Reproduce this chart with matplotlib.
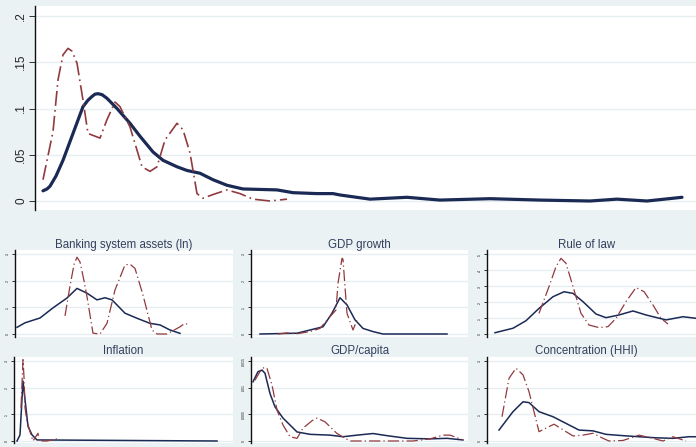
import matplotlib
matplotlib.use("Agg")
import matplotlib.pyplot as plt

plt.rcParams['font.family'] = ['Liberation Sans', 'DejaVu Sans']

W, H = 696, 447
BG = '#eaf2f3'
GRID = '#e6eef0'
NAVY = '#1a2a55'
MAROON = '#913a3f'
TXT = '#34405e'

# ---- main panel: pooled density ----
main_x_blue = [43, 47, 50, 56, 63, 73, 83, 88, 92, 95, 98, 102, 107, 117, 130, 140,
               153, 163, 177, 187, 200, 213, 227, 243, 277, 293, 317, 333, 340, 370,
               407, 440, 490, 540, 590, 617, 647, 682]
main_y_blue = [0.011, 0.013, 0.016, 0.027, 0.044, 0.073, 0.102, 0.109, 0.113, 0.1155,
               0.116, 0.115, 0.111, 0.100, 0.084, 0.070, 0.053, 0.044, 0.037, 0.033,
               0.030, 0.023, 0.017, 0.013, 0.012, 0.009, 0.008, 0.008, 0.0065, 0.002,
               0.004, 0.001, 0.0025, 0.001, 0.000, 0.002, 0.000, 0.004]
main_x_red = [43, 53, 58, 63, 68, 72, 77, 83, 88, 100, 107, 115, 120, 130, 137, 142,
              150, 157, 165, 177, 183, 190, 197, 203, 213, 227, 240, 253, 270, 287]
main_y_red = [0.023, 0.075, 0.131, 0.158, 0.165, 0.162, 0.149, 0.109, 0.073, 0.068,
              0.088, 0.107, 0.102, 0.080, 0.055, 0.037, 0.032, 0.037, 0.066, 0.084,
              0.077, 0.052, 0.008, 0.003, 0.007, 0.012, 0.008, 0.002, 0.000, 0.002]
main_ticks = [0, 0.05, 0.1, 0.15, 0.2]
main_ticklabels = ['0', '.05', '.1', '.15', '.2']

# ---- small panels ----
titles = ['Banking system assets (ln)', 'GDP growth', 'Rule of law',
          'Inflation', 'GDP/capita', 'Concentration (HHI)']

bank_x_blue = [17, 25, 40, 53, 67, 77, 87, 97, 105, 112, 125, 137, 150, 160, 170, 180]
bank_y_blue = [0.025, 0.042, 0.060, 0.098, 0.135, 0.171, 0.153, 0.128, 0.136, 0.128,
               0.078, 0.059, 0.040, 0.034, 0.015, 0.0025]
bank_x_red = [65, 70, 74, 77, 80, 84, 87, 93, 100, 107, 115, 125, 130, 135, 143, 152,
              157, 167, 180, 185, 190]
bank_y_red = [0.068, 0.180, 0.260, 0.288, 0.270, 0.200, 0.140, 0.003, 0.0, 0.040,
              0.165, 0.259, 0.262, 0.246, 0.146, 0.015, 0.0, 0.0, 0.027, 0.040, 0.033]

gdpg_x_blue = [260, 297, 310, 323, 332, 340, 347, 355, 363, 373, 383, 447]
gdpg_y_blue = [0.0, 0.003, 0.015, 0.027, 0.078, 0.136, 0.109, 0.053, 0.021, 0.009, 0.0, 0.0]
gdpg_x_red = [278, 287, 297, 310, 320, 330, 336, 338, 342, 343, 345, 347, 350, 353, 355, 357]
gdpg_y_red = [0.0, 0.004, 0.001, 0.009, 0.021, 0.065, 0.090, 0.190, 0.284, 0.280,
              0.177, 0.078, 0.046, 0.015, 0.034, 0.053]

rule_x_blue = [495, 513, 526, 539, 553, 564, 573, 583, 596, 606, 619, 633, 646, 666, 683, 696]
rule_y_blue = [0.008, 0.036, 0.083, 0.160, 0.233, 0.264, 0.254, 0.202, 0.125, 0.102,
               0.119, 0.144, 0.119, 0.088, 0.108, 0.098]
rule_x_red = [539, 549, 556, 561, 566, 573, 581, 589, 599, 608, 616, 626, 636, 644,
              653, 661, 668]
rule_y_red = [0.129, 0.296, 0.421, 0.473, 0.442, 0.296, 0.129, 0.056, 0.040, 0.046,
              0.098, 0.202, 0.290, 0.265, 0.181, 0.098, 0.062]

infl_x_blue = [17, 20, 23, 25, 28, 32, 37, 217]
infl_y_blue = [0.0, 0.023, 0.225, 0.156, 0.055, 0.023, 0.004, 0.0]
infl_x_red = [21, 23, 24, 25, 27, 31, 33, 38, 39, 47, 57]
infl_y_red = [0.125, 0.305, 0.240, 0.125, 0.073, 0.023, 0.0, 0.029, 0.0, 0.0, 0.008]

gdpc_x_blue = [253, 258, 262, 265, 270, 275, 283, 297, 310, 330, 343, 357, 373, 387,
               407, 430, 447, 463]
gdpc_y_blue = [0.00111, 0.00130, 0.00133, 0.00127, 0.00089, 0.00064, 0.00043, 0.00017,
               0.000125, 0.00011, 0.00008, 0.00011, 0.00014, 0.00010, 0.00005,
               0.00004, 0.00005, 0.00002]
gdpc_x_red = [255, 260, 264, 267, 272, 277, 283, 290, 297, 303, 312, 317, 325, 337,
              350, 413, 430, 443, 450, 463]
gdpc_y_red = [0.00114, 0.00130, 0.00138, 0.00136, 0.00105, 0.00058, 0.00030, 0.00008,
              0.00005, 0.00024, 0.00038, 0.00043, 0.00036, 0.00014, 0.0, 0.0,
              0.00004, 0.00011, 0.00011, 0.00002]

conc_x_blue = [499, 513, 523, 529, 539, 553, 566, 579, 593, 606, 623, 639, 656, 673, 689, 696]
conc_y_blue = [0.041, 0.110, 0.147, 0.144, 0.110, 0.091, 0.066, 0.041, 0.038, 0.025,
               0.020, 0.016, 0.012, 0.010, 0.016, 0.016]
conc_x_red = [502, 509, 516, 523, 529, 534, 539, 546, 554, 566, 573, 583, 593, 603,
              609, 623, 639, 653, 663, 673, 686]
conc_y_red = [0.091, 0.235, 0.273, 0.248, 0.185, 0.110, 0.035, 0.048, 0.063, 0.035,
              0.019, 0.022, 0.029, 0.010, 0.0, 0.002, 0.022, 0.010, 0.0, 0.016, 0.0]

tick_sets = [
    ([0, .1, .2, .3], ['0', '.1', '.2', '.3']),
    ([0, .1, .2, .3], ['0', '.1', '.2', '.3']),
    ([0, .1, .2, .3, .4, .5], ['0', '.1', '.2', '.3', '.4', '.5']),
    ([0, .1, .2, .3], ['0', '.1', '.2', '.3']),
    ([0, .0005, .001, .0015], ['0', '.0005', '.001', '.0015']),
    ([0, .1, .2, .3], ['0', '.1', '.2', '.3']),
]
series = [
    (bank_x_blue, bank_y_blue, bank_x_red, bank_y_red),
    (gdpg_x_blue, gdpg_y_blue, gdpg_x_red, gdpg_y_red),
    (rule_x_blue, rule_y_blue, rule_x_red, rule_y_red),
    (infl_x_blue, infl_y_blue, infl_x_red, infl_y_red),
    (gdpc_x_blue, gdpc_y_blue, gdpc_x_red, gdpc_y_red),
    (conc_x_blue, conc_y_blue, conc_x_red, conc_y_red),
]

fig = plt.figure(figsize=(W / 100, H / 100), dpi=100)
fig.patch.set_facecolor(BG)


def add_box(x0, y0, x1, y1):
    return fig.add_axes([x0 / W, 1 - y1 / H, (x1 - x0) / W, (y1 - y0) / H])


def limits_from_ticks(y0, y1, t_top, t_bot, vmax):
    scale = (t_bot - t_top) / vmax
    return (-(y1 - t_bot) / scale, (t_bot - y0) / scale)


def style(ax, ticks, labels, fs, tlen, lw_axis):
    ax.set_facecolor('white')
    for s in ['top', 'right', 'bottom']:
        ax.spines[s].set_visible(False)
    ax.spines['left'].set_color('#111111')
    ax.spines['left'].set_linewidth(lw_axis)
    ax.set_xticks([])
    ax.set_yticks(ticks)
    ax.set_yticklabels(labels, rotation=90, va='center', fontsize=fs, color='#222222')
    ax.tick_params(axis='y', length=tlen, width=0.6, color='#111111', pad=1.5)
    ax.grid(axis='y', color=GRID, linewidth=1.0)
    ax.set_axisbelow(True)


# main panel
ax = add_box(35, 6, 696, 210)
ax.set_xlim(35, 696)
ax.set_ylim(*limits_from_ticks(6, 210, 16, 201, 0.2))
style(ax, main_ticks, main_ticklabels, 8.5, 4, 1.0)
ax.plot(main_x_blue, main_y_blue, color=NAVY, lw=2.3, solid_capstyle='round',
        solid_joinstyle='round')
ax.plot(main_x_red, main_y_red, color=MAROON, lw=1.2, linestyle=(0, (9, 2.5, 1, 2.5)))

# small panels
cols = [(15, 233), (251, 468), (487, 696)]
rows = [(250, 337, 254, 334, 245), (357, 443, 361, 441, 351)]
for i in range(6):
    r, c = divmod(i, 3)
    x0, x1 = cols[c]
    y0, y1, t_top, t_bot, ty = rows[r]
    if i == 3:
        x0 = 14
    ax = add_box(x0, y0, x1, y1)
    ticks, labels = tick_sets[i]
    ax.set_xlim(x0, x1)
    ax.set_ylim(*limits_from_ticks(y0, y1, t_top, t_bot, ticks[-1]))
    style(ax, ticks, labels, 2.6, 2, 1.0)
    bx, by, rx, ry = series[i]
    ax.plot(bx, by, color=NAVY, lw=1.1)
    ax.plot(rx, ry, color=MAROON, lw=0.9, linestyle=(0, (9, 2.5, 1, 2.5)))
    cx = (x0 + x1) / 2 if c < 2 else (x0 + x1) / 2 - 5
    fig.text(cx / W, 1 - ty / H, titles[i], ha='center', va='center',
             fontsize=8.3, color=TXT)

fig.savefig('out.png', dpi=100, facecolor=BG)
